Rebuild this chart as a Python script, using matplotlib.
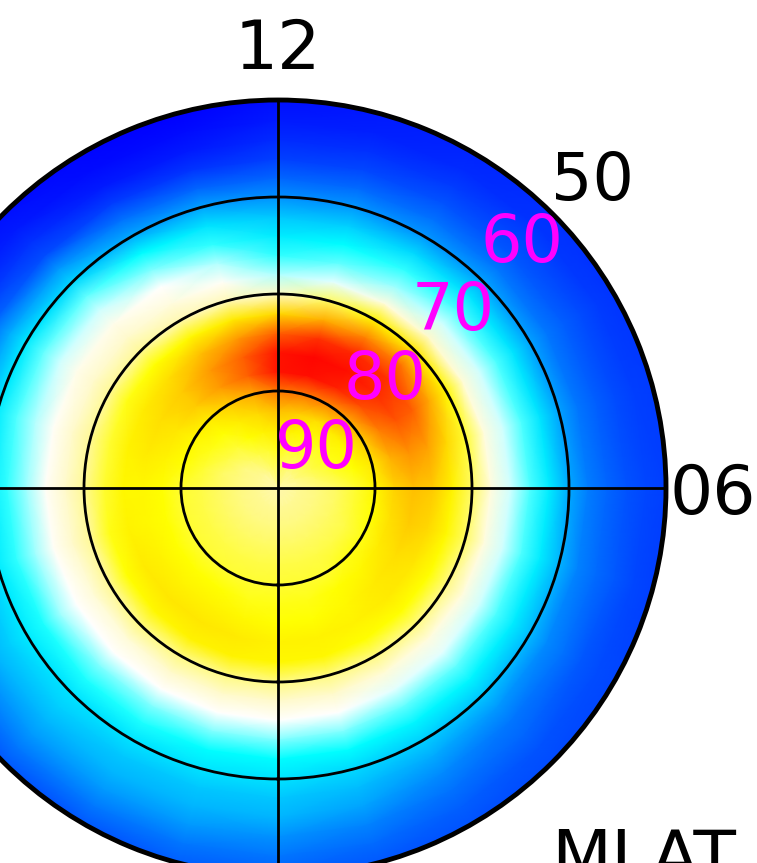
import matplotlib
matplotlib.use('Agg')
import matplotlib.pyplot as plt
from matplotlib.colors import LinearSegmentedColormap
import numpy as np

# magnetic local time (h) and magnetic latitude (deg) of the grid nodes
mlt = list(range(24))
mlat = [90, 88, 86, 84, 82, 80, 78, 76, 74, 72, 70, 68, 66, 64, 62, 60, 58, 56, 54, 52, 50]

# normalised value at each node, one profile (90 -> 50 deg) per MLT hour
profiles = {
    0:  [.55, .56, .57, .58, .59, .60, .61, .62, .64, .63, .57, .52, .47, .42, .37, .34, .31, .29, .25, .21, .17],
    1:  [.55, .56, .57, .58, .59, .60, .61, .62, .64, .63, .57, .52, .47, .42, .37, .33, .30, .27, .23, .19, .16],
    2:  [.55, .56, .57, .58, .59, .60, .62, .63, .64, .62, .57, .51, .46, .41, .36, .32, .28, .24, .20, .17, .15],
    3:  [.55, .56, .57, .58, .59, .61, .63, .65, .65, .62, .57, .50, .46, .41, .36, .31, .26, .21, .18, .15, .14],
    4:  [.55, .56, .57, .58, .59, .61, .65, .67, .66, .62, .57, .50, .45, .40, .35, .30, .24, .20, .16, .14, .13],
    5:  [.55, .56, .57, .58, .60, .62, .67, .70, .68, .63, .58, .50, .45, .40, .35, .29, .23, .19, .16, .13, .12],
    6:  [.55, .56, .57, .58, .60, .63, .69, .72, .70, .64, .58, .50, .45, .40, .35, .28, .22, .18, .15, .13, .12],
    7:  [.55, .56, .58, .60, .62, .66, .74, .78, .76, .68, .60, .50, .45, .40, .34, .27, .21, .17, .14, .12, .11],
    8:  [.55, .57, .59, .61, .63, .70, .81, .87, .85, .75, .63, .51, .45, .40, .34, .27, .21, .17, .14, .11, .10],
    9:  [.55, .57, .59, .61, .65, .75, .88, .94, .92, .82, .66, .52, .45, .40, .34, .27, .21, .16, .13, .10, .09],
    10: [.56, .57, .60, .62, .67, .80, .95, .98, .94, .80, .64, .50, .43, .39, .33, .26, .20, .15, .11, .08, .07],
    11: [.56, .58, .60, .64, .70, .82, .98, .99, .92, .74, .58, .46, .41, .37, .32, .26, .19, .13, .09, .06, .05],
    12: [.56, .58, .61, .65, .72, .82, .97, .97, .85, .68, .53, .44, .39, .35, .31, .25, .18, .12, .08, .05, .03],
    13: [.56, .58, .60, .64, .68, .75, .85, .85, .77, .65, .54, .48, .44, .39, .34, .27, .18, .10, .05, .02, .00],
    14: [.55, .57, .59, .62, .65, .70, .77, .77, .72, .63, .55, .50, .47, .42, .37, .28, .20, .11, .05, .02, .01],
    15: [.55, .56, .58, .60, .62, .65, .70, .70, .67, .62, .56, .52, .49, .45, .41, .33, .26, .14, .09, .05, .03],
    16: [.55, .56, .57, .59, .61, .63, .66, .67, .65, .61, .56, .52, .49, .45, .41, .35, .28, .18, .12, .08, .06],
    17: [.55, .56, .57, .58, .60, .62, .64, .65, .64, .60, .56, .52, .48, .44, .40, .35, .30, .23, .17, .12, .09],
    18: [.55, .56, .57, .58, .59, .60, .62, .63, .63, .60, .56, .52, .48, .43, .39, .35, .31, .27, .22, .17, .12],
    19: [.55, .56, .57, .58, .59, .60, .62, .63, .64, .61, .56, .52, .48, .43, .39, .35, .31, .28, .24, .19, .14],
    20: [.55, .56, .57, .58, .59, .60, .62, .64, .65, .62, .56, .51, .47, .43, .38, .35, .32, .29, .25, .21, .16],
    21: [.55, .56, .57, .58, .59, .60, .62, .64, .66, .63, .57, .51, .47, .42, .38, .34, .32, .29, .26, .21, .16],
    22: [.55, .56, .57, .58, .59, .60, .62, .64, .66, .64, .57, .52, .47, .42, .38, .34, .31, .29, .26, .21, .16],
    23: [.55, .56, .57, .58, .59, .60, .61, .63, .65, .64, .57, .52, .47, .42, .37, .34, .31, .29, .26, .21, .17],
}

lat_labels = [90, 80, 70, 60]
cmap_stops = [(0.00, '#0000ff'), (0.12, '#0040ff'), (0.25, '#0090ff'),
              (0.37, '#00ffff'), (0.47, '#ffffff'), (0.55, '#fff8b0'),
              (0.62, '#ffff00'), (0.72, '#ffc000'), (0.85, '#ff6000'),
              (1.00, '#ff0000')]
cmap = LinearSegmentedColormap.from_list('oval', cmap_stops)

# table: rows = latitude, columns = MLT (wrap 24 -> 0), plus one row past 50 deg
vals = np.array([profiles[h] for h in mlt]).T
vals = np.hstack([vals, vals[:, :1]])
vals = np.vstack([vals, vals[-1:]])
theta = np.deg2rad(np.array(mlt + [24]) * 15.0)
colat = 90.0 - np.array(mlat + [48])
T, R = np.meshgrid(theta, colat)

W, H = 757, 863
fig = plt.figure(figsize=(W / 100, H / 100), dpi=100)
cx, cy, rad = 278, 488, 388
ax = fig.add_axes([(cx - rad) / W, (H - cy - rad) / H, 2 * rad / W, 2 * rad / H],
                  projection='polar')
ax.set_theta_zero_location('S')
ax.set_theta_direction(1)

ax.pcolormesh(T, R, vals, cmap=cmap, vmin=0, vmax=1, shading='gouraud')

ax.set_rlim(0, 40)
ax.set_rticks([10, 20, 30])
ax.set_yticklabels([])
ax.set_thetagrids([0, 90, 180, 270], labels=[])
ax.grid(True, color='black', lw=2.0)
ax.spines['polar'].set_linewidth(3.5)

# MLT labels
ax.text(np.pi, 43.2, '12', fontsize=49, ha='center', va='baseline')
ax.text(np.pi / 2, 40.4, '06', fontsize=49, ha='left', va='center_baseline')

# latitude labels along the 09 MLT direction
for lat in lat_labels:
    ax.text(np.deg2rad(135), 90 - lat + 5.6, str(lat), fontsize=47,
            color='#ff00ff', ha='center', va='center')
ax.text(np.deg2rad(134.2), 45.2, '50', fontsize=47, color='black',
        ha='center', va='center')

fig.text(551 / W, (H - 880) / H, 'MLAT', fontsize=50, ha='left', va='baseline')

fig.savefig('out.png', dpi=100, facecolor='white')
